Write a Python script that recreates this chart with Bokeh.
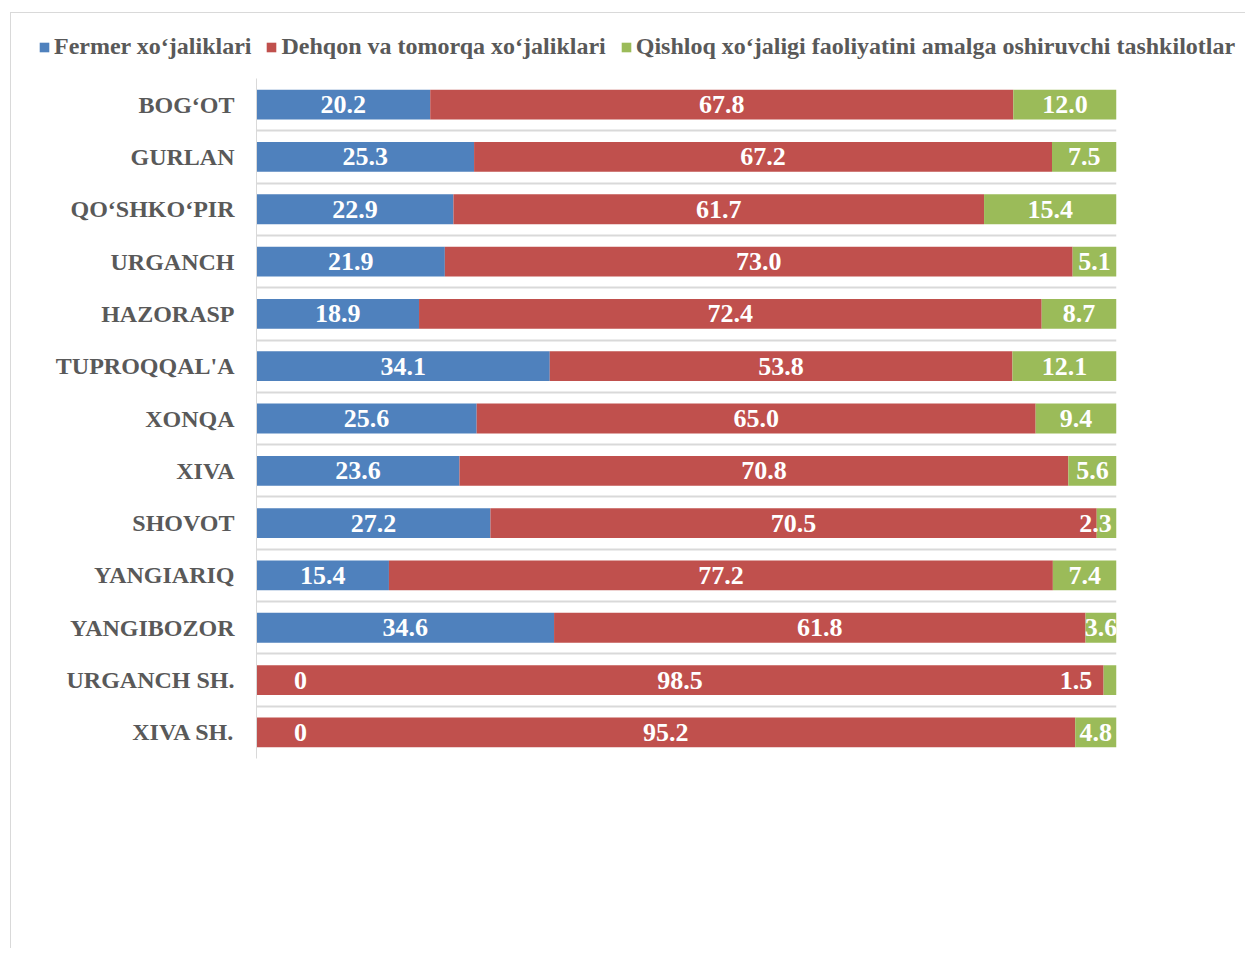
from bokeh.plotting import figure
from bokeh.layouts import column
from bokeh.models import ColumnDataSource, Range1d, FixedTicker, Legend, LegendItem
from bokeh.core.properties import value
from bokeh.embed import file_html
from bokeh.resources import INLINE

categories = ["BOG‘OT", "GURLAN", "QO‘SHKO‘PIR", "URGANCH", "HAZORASP", "TUPROQQAL'A",
              "XONQA", "XIVA", "SHOVOT", "YANGIARIQ", "YANGIBOZOR", "URGANCH SH.", "XIVA SH."]
fermer = [20.2, 25.3, 22.9, 21.9, 18.9, 34.1, 25.6, 23.6, 27.2, 15.4, 34.6, 0, 0]
dehqon = [67.8, 67.2, 61.7, 73.0, 72.4, 53.8, 65.0, 70.8, 70.5, 77.2, 61.8, 98.5, 95.2]
qishloq = [12.0, 7.5, 15.4, 5.1, 8.7, 12.1, 9.4, 5.6, 2.3, 7.4, 3.6, 1.5, 4.8]
series_names = ["Fermer xo‘jaliklari", "Dehqon va tomorqa xo‘jaliklari",
                "Qishloq xo‘jaligi faoliyatini amalga oshiruvchi tashkilotlar"]
colors = ["#4F81BD", "#C0504D", "#9BBB59"]

FONT = "Liberation Serif"
n = len(categories)
ypos = [i + 0.5 for i in range(n)]

src = ColumnDataSource(dict(y=ypos, fermer=fermer, dehqon=dehqon, qishloq=qishloq))

W = 1234
LEG_H = 60
p = figure(width=W, height=875, output_backend="svg", toolbar_location=None,
           x_range=Range1d(0, 100), y_range=Range1d(n, 0),
           min_border_left=245, min_border_right=129, min_border_top=5, min_border_bottom=190)
p.frame_align = False

rs = p.hbar_stack(["fermer", "dehqon", "qishloq"], y="y", height=0.57, color=colors,
                  line_color=None, source=src)

# data labels
lx, ly, lt, loff = [], [], [], []
for i in range(n):
    left = 0.0
    for vals in (fermer, dehqon, qishloq):
        v = vals[i]
        lx.append(left + v / 2.0)
        ly.append(ypos[i])
        lt.append("0" if v == 0 else f"{v:.1f}")
        off = 0
        if v == 0:
            off = 44
        elif vals is qishloq and v < 2:
            off = -34
        elif vals is qishloq and v < 3:
            off = -11
        loff.append(off)
        left += v
lsrc = ColumnDataSource(dict(x=lx, y=ly, t=lt, off=loff))
p.text(x="x", y="y", text="t", x_offset="off", source=lsrc, text_align="center",
       text_baseline="middle", text_color="white", text_font=value(FONT),
       text_font_size="26px", text_font_style="bold")

# axes
p.xaxis.visible = False
p.yaxis.ticker = FixedTicker(ticks=ypos)
p.yaxis.major_label_overrides = {y: c for y, c in zip(ypos, categories)}
p.yaxis.major_tick_line_color = None
p.yaxis.minor_tick_line_color = None
p.yaxis.axis_line_color = "#d9d9d9"
p.yaxis.axis_line_width = 1
p.yaxis.major_label_standoff = 16
p.yaxis.major_label_text_font = FONT
p.yaxis.major_label_text_font_size = "24px"
p.yaxis.major_label_text_font_style = "bold"
p.yaxis.major_label_text_color = "#595959"

p.xgrid.visible = False
p.ygrid.ticker = FixedTicker(ticks=list(range(n + 1)))
p.ygrid.grid_line_color = "#d9d9d9"
p.ygrid.grid_line_width = 2
p.outline_line_color = None

# legend strip above the chart
pl = figure(width=W, height=LEG_H, output_backend="svg", toolbar_location=None,
            x_range=Range1d(0, 1), y_range=Range1d(0, 1),
            min_border_left=0, min_border_right=0, min_border_top=0, min_border_bottom=0)
pl.frame_align = False
pl.axis.visible = False
pl.grid.visible = False
pl.outline_line_color = None
# legend swatches (kept outside the visible range of this strip)
dummies = [pl.rect(x=[-5], y=[-5], width=1, height=1, color=c, line_color=None) for c in colors]
legend = Legend(items=[LegendItem(label=nm, renderers=[r]) for nm, r in zip(series_names, dummies)],
                orientation="horizontal", location=(27, 13), padding=0, margin=0,
                spacing=14, label_standoff=4, glyph_width=12, glyph_height=12,
                label_text_font=FONT, label_text_font_size="24px", label_text_font_style="bold",
                label_text_color="#595959", border_line_color=None, background_fill_alpha=0)
pl.add_layout(legend, "center")

layout = column(pl, p, spacing=0)
layout.styles = {"margin-left": "10px", "margin-top": "12px",
                 "border-left": "1px solid #d9d9d9", "border-top": "1px solid #d9d9d9"}
open("out.html", "w").write(file_html(layout, INLINE))
